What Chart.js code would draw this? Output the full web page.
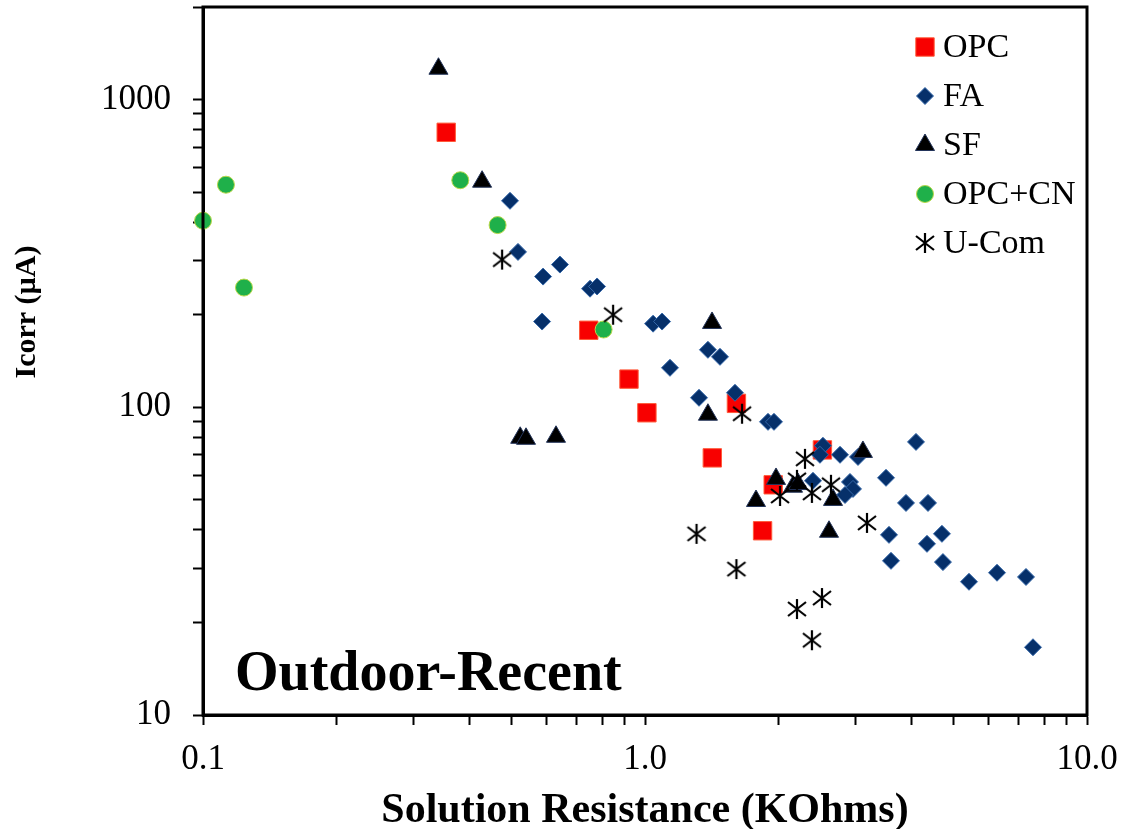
<!DOCTYPE html>
<html>
<head>
<meta charset="utf-8">
<script src="https://cdn.jsdelivr.net/npm/chart.js@4.4.0/dist/chart.umd.min.js"></script>
<style>
  html, body { margin: 0; padding: 0; background: #fff; }
</style>
</head>
<body>
<canvas id="myChart" width="1129" height="829"></canvas>
<script>
// Solution resistance (KOhms) / Icorr (uA)
const opcX = [0.355, 0.746, 0.92, 1.01, 1.42, 1.61, 1.845, 1.95, 2.52]
const opcY = [783, 178, 123.5, 96, 68.5, 103, 39.7, 56, 72.7]

const faX = [0.495, 0.516, 0.588, 0.642, 0.751, 0.779, 0.585, 1.043, 1.093, 1.139, 1.325, 1.388, 1.478, 1.598, 1.898, 1.958, 2.527, 2.488, 2.762, 3.033, 2.399, 2.909, 2.955, 2.835, 3.51, 3.895, 4.103, 4.368, 3.565, 4.697, 4.345, 3.602, 4.722, 5.408, 6.258, 7.278, 7.547]
const faY = [469, 320, 266, 291, 243, 247, 190, 187, 190, 134.4, 107.4, 153.8, 145.9, 111.5, 89.7, 89.7, 75, 70.1, 70.1, 69, 57.7, 57.2, 54.3, 51.9, 59, 48.9, 77.2, 48.9, 38.5, 38.8, 36, 31.7, 31.4, 27.1, 29, 28.1, 16.6]

const sfX = [0.341, 0.428, 0.522, 0.538, 0.629, 1.418, 1.388, 3.112, 1.979, 2.162, 2.219, 1.783, 2.663, 2.608]
const sfY = [1260, 541, 79.6, 79, 80.2, 188, 94.6, 71.6, 58.5, 55.2, 56.3, 49.6, 50, 39.4]

const cnX = [0.1, 0.1127, 0.1238, 0.382, 0.464, 0.806]
const cnY = [404, 529, 245, 547, 391, 179]

const ucomX = [0.475, 0.847, 1.658, 2.301, 2.207, 2.021, 2.386, 2.635, 3.178, 1.308, 1.61, 2.514, 2.207, 2.386]
const ucomY = [302, 200, 95.3, 68, 58.1, 51.5, 52.7, 56, 42.1, 38.8, 29.8, 24, 22.1, 17.5]

// axis ticks
const xTickValues = [0.1, 0.2, 0.3, 0.4, 0.5, 0.6, 0.7, 0.8, 0.9, 1, 2, 3, 4, 5, 6, 7, 8, 9, 10]
const xTickLabels = { 0.1: '0.1', 1: '1.0', 10: '10.0' }
const yTickValues = [10, 20, 30, 40, 50, 60, 70, 80, 90, 100, 200, 300, 400, 500, 600, 700, 800, 900, 1000, 2000]
const yTickLabels = { 10: '10', 100: '100', 1000: '1000' }

const serif = '"Liberation Serif", "Times New Roman", serif'

// six-armed asterisk for U-Com
const makeStar = () => {
	const c = document.createElement('canvas')
	c.width = 22
	c.height = 22
	const g = c.getContext('2d')
	g.strokeStyle = '#000'
	g.lineWidth = 2.2
	g.beginPath()
	g.moveTo(11, 1); g.lineTo(11, 21)
	g.moveTo(2, 4); g.lineTo(20, 18)
	g.moveTo(2, 18); g.lineTo(20, 4)
	g.stroke()
	return c
}
const starImg = makeStar()

const pts = (xs, ys) => xs.map((x, i) => ({ x: x, y: ys[i] }))

const datasets = [
	{ label: 'OPC', data: pts(opcX, opcY), pointStyle: 'rect', pointRadius: 13,
	  backgroundColor: '#f80000', borderColor: '#ff5a3a', borderWidth: 1, order: 5 },
	{ label: 'FA', data: pts(faX, faY), pointStyle: 'rectRot', pointRadius: 8.5,
	  backgroundColor: '#06306a', borderColor: '#3567a8', borderWidth: 1, order: 4 },
	{ label: 'SF', data: pts(sfX, sfY), pointStyle: 'triangle', pointRadius: 11,
	  backgroundColor: '#000000', borderColor: '#23345a', borderWidth: 1, order: 3 },
	{ label: 'OPC+CN', data: pts(cnX, cnY), pointStyle: 'circle', pointRadius: 8.5,
	  backgroundColor: '#1fb04a', borderColor: '#b8d84a', borderWidth: 1, order: 2 },
	{ label: 'U-Com', data: pts(ucomX, ucomY), pointStyle: starImg, pointRadius: 10,
	  backgroundColor: '#000', borderColor: '#000', borderWidth: 0, order: 1 }
]
datasets.forEach(d => { d.clip = false; d.pointHoverRadius = d.pointRadius })

// box round the plot
const framePlugin = {
	id: 'frame',
	afterDraw(chart) {
		const { ctx, chartArea: a } = chart
		ctx.save()
		ctx.strokeStyle = '#000'
		ctx.lineWidth = 3
		ctx.strokeRect(a.left, a.top, a.right - a.left, a.bottom - a.top)
		ctx.restore()
	}
}

// legend inside the plot, texts and y title
const textPlugin = {
	id: 'texts',
	afterDraw(chart) {
		const ctx = chart.ctx
		ctx.save()
		datasets.forEach((d, i) => {
			const y = 47 + i * 49
			ctx.fillStyle = d.backgroundColor
			ctx.strokeStyle = d.borderColor
			ctx.lineWidth = d.borderWidth
			Chart.helpers.drawPoint(ctx, { pointStyle: d.pointStyle, radius: d.pointRadius, rotation: 0, borderWidth: d.borderWidth }, 925, y)
			ctx.fillStyle = '#000'
			ctx.font = '34px ' + serif
			ctx.textBaseline = 'middle'
			ctx.textAlign = 'left'
			ctx.fillText(d.label, 943, y + 1)
		})

		ctx.font = 'bold 56px ' + serif
		ctx.textBaseline = 'alphabetic'
		ctx.fillText('Outdoor-Recent', 235, 690)

		ctx.translate(27, 312)
		ctx.rotate(-Math.PI / 2)
		ctx.textAlign = 'center'
		ctx.textBaseline = 'middle'
		ctx.font = 'bold 30px ' + serif
		ctx.fillText('Icorr (µA)', 0, 0)
		ctx.restore()
	}
}

const fixTicks = (values) => (scale) => {
	scale.ticks = values.map(v => ({ value: v }))
}

const canvas = document.getElementById('myChart')
const myChart = new Chart(canvas, {
	type: 'scatter',
	data: { datasets: datasets },
	options: {
		responsive: false,
		animation: false,
		layout: { autoPadding: false, padding: { top: 7, right: 42, left: 0, bottom: 0 } },
		plugins: { legend: { display: false }, tooltip: { enabled: false } },
		scales: {
			x: {
				type: 'logarithmic',
				min: 0.1,
				max: 10,
				afterBuildTicks: fixTicks(xTickValues),
				afterFit(scale) {
					scale.height = 114
					scale.paddingLeft = 0
					scale.paddingRight = 0
				},
				grid: { drawOnChartArea: false, drawTicks: true, tickLength: 10, tickWidth: 2, tickColor: '#000' },
				border: { display: true, color: '#000', width: 3 },
				ticks: {
					autoSkip: false,
					maxRotation: 0,
					padding: 14,
					color: '#000',
					font: { family: serif, size: 35 },
					callback: (v) => xTickLabels[v] || ''
				},
				title: {
					display: true,
					text: 'Solution Resistance (KOhms)',
					color: '#000',
					font: { family: serif, size: 42, weight: 'bold', lineHeight: 0.7 },
					padding: { top: 0, bottom: 3 }
				}
			},
			y: {
				type: 'logarithmic',
				min: 10,
				max: 2000,
				afterBuildTicks: fixTicks(yTickValues),
				afterFit(scale) {
					scale.width = 203
					scale.paddingTop = 0
					scale.paddingBottom = 0
				},
				grid: { drawOnChartArea: false, drawTicks: true, tickLength: 10, tickWidth: 2, tickColor: '#000' },
				border: { display: true, color: '#000', width: 3 },
				ticks: {
					autoSkip: false,
					padding: 22,
					color: '#000',
					font: { family: serif, size: 35 },
					callback: (v) => yTickLabels[v] || ''
				}
			}
		}
	},
	plugins: [framePlugin, textPlugin]
})
</script>
</body>
</html>
